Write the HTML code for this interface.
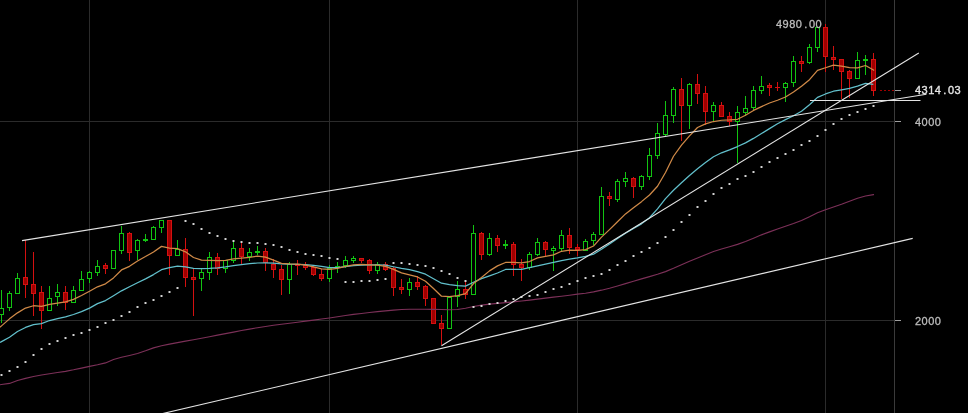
<!DOCTYPE html>
<html><head><meta charset="utf-8"><style>
html,body{margin:0;padding:0;background:#000;width:968px;height:413px;overflow:hidden}
svg{position:absolute;left:0;top:0}
.lbl{position:absolute;font-family:"Liberation Sans",sans-serif;font-size:11px;line-height:11px;color:#bcbcbc;white-space:pre;will-change:transform;letter-spacing:0.5px;-webkit-text-stroke:0.3px #bcbcbc}
.dot{display:inline-block;width:6.5px;text-align:center;letter-spacing:0}
</style></head><body>
<svg width="968" height="413" viewBox="0 0 968 413"><rect x="89" y="0" width="1" height="413" fill="#2b2b2b"/><rect x="329" y="0" width="1" height="413" fill="#2b2b2b"/><rect x="577" y="0" width="1" height="413" fill="#2b2b2b"/><rect x="825" y="0" width="1" height="413" fill="#2b2b2b"/><rect x="0" y="121" width="894" height="1" fill="#2b2b2b"/><rect x="0" y="320" width="894" height="1" fill="#2b2b2b"/><rect x="894" y="0" width="1" height="413" fill="#3a3a3a"/><rect x="895" y="121" width="6" height="1" fill="#a0a0a0"/><rect x="895" y="320" width="6" height="1" fill="#a0a0a0"/><rect x="895" y="90" width="6" height="1" fill="#a0a0a0"/><g shape-rendering="crispEdges"><rect x="1" y="290" width="1" height="33" fill="#12c412"/><rect x="-1" y="308" width="5" height="7" fill="#12c412"/><rect x="0" y="309" width="3" height="5" fill="#000"/><rect x="9" y="291" width="1" height="20" fill="#12c412"/><rect x="7" y="293" width="5" height="15" fill="#12c412"/><rect x="8" y="294" width="3" height="13" fill="#000"/><rect x="17" y="273" width="1" height="21" fill="#12c412"/><rect x="15" y="278" width="5" height="16" fill="#12c412"/><rect x="16" y="279" width="3" height="14" fill="#000"/><rect x="25" y="240" width="1" height="58" fill="#d41010"/><rect x="23" y="277" width="5" height="8" fill="#d41010"/><rect x="24" y="278" width="3" height="6" fill="#a00000"/><rect x="33" y="252" width="1" height="64" fill="#d41010"/><rect x="31" y="284" width="5" height="10" fill="#d41010"/><rect x="32" y="285" width="3" height="8" fill="#a00000"/><rect x="41" y="286" width="1" height="43" fill="#d41010"/><rect x="39" y="292" width="5" height="19" fill="#d41010"/><rect x="40" y="293" width="3" height="17" fill="#a00000"/><rect x="49" y="286" width="1" height="25" fill="#12c412"/><rect x="47" y="298" width="5" height="13" fill="#12c412"/><rect x="48" y="299" width="3" height="11" fill="#000"/><rect x="57" y="284" width="1" height="22" fill="#12c412"/><rect x="55" y="292" width="5" height="5" fill="#12c412"/><rect x="56" y="293" width="3" height="3" fill="#000"/><rect x="65" y="286" width="1" height="24" fill="#d41010"/><rect x="63" y="292" width="5" height="11" fill="#d41010"/><rect x="64" y="293" width="3" height="9" fill="#a00000"/><rect x="73" y="286" width="1" height="17" fill="#12c412"/><rect x="71" y="290" width="5" height="13" fill="#12c412"/><rect x="72" y="291" width="3" height="11" fill="#000"/><rect x="81" y="271" width="1" height="20" fill="#12c412"/><rect x="79" y="279" width="5" height="12" fill="#12c412"/><rect x="80" y="280" width="3" height="10" fill="#000"/><rect x="89" y="271" width="1" height="12" fill="#12c412"/><rect x="87" y="272" width="5" height="7" fill="#12c412"/><rect x="88" y="273" width="3" height="5" fill="#000"/><rect x="97" y="260" width="1" height="16" fill="#12c412"/><rect x="95" y="266" width="5" height="7" fill="#12c412"/><rect x="96" y="267" width="3" height="5" fill="#000"/><rect x="105" y="263" width="1" height="11" fill="#d41010"/><rect x="103" y="265" width="5" height="4" fill="#d41010"/><rect x="104" y="266" width="3" height="2" fill="#a00000"/><rect x="113" y="250" width="1" height="19" fill="#12c412"/><rect x="111" y="250" width="5" height="19" fill="#12c412"/><rect x="112" y="251" width="3" height="17" fill="#000"/><rect x="121" y="226" width="1" height="28" fill="#12c412"/><rect x="119" y="233" width="5" height="18" fill="#12c412"/><rect x="120" y="234" width="3" height="16" fill="#000"/><rect x="129" y="232" width="1" height="29" fill="#d41010"/><rect x="127" y="233" width="5" height="20" fill="#d41010"/><rect x="128" y="234" width="3" height="18" fill="#a00000"/><rect x="137" y="239" width="1" height="21" fill="#12c412"/><rect x="135" y="240" width="5" height="11" fill="#12c412"/><rect x="136" y="241" width="3" height="9" fill="#000"/><rect x="145" y="234" width="1" height="8" fill="#12c412"/><rect x="143" y="239" width="5" height="2" fill="#12c412"/><rect x="153" y="226" width="1" height="14" fill="#12c412"/><rect x="151" y="227" width="5" height="13" fill="#12c412"/><rect x="152" y="228" width="3" height="11" fill="#000"/><rect x="161" y="220" width="1" height="13" fill="#12c412"/><rect x="159" y="220" width="5" height="8" fill="#12c412"/><rect x="160" y="221" width="3" height="6" fill="#000"/><rect x="169" y="220" width="1" height="55" fill="#d41010"/><rect x="167" y="220" width="5" height="36" fill="#d41010"/><rect x="168" y="221" width="3" height="34" fill="#a00000"/><rect x="177" y="240" width="1" height="16" fill="#12c412"/><rect x="175" y="249" width="5" height="7" fill="#12c412"/><rect x="176" y="250" width="3" height="5" fill="#000"/><rect x="185" y="238" width="1" height="49" fill="#d41010"/><rect x="183" y="249" width="5" height="29" fill="#d41010"/><rect x="184" y="250" width="3" height="27" fill="#a00000"/><rect x="193" y="269" width="1" height="47" fill="#d41010"/><rect x="191" y="277" width="5" height="3" fill="#d41010"/><rect x="192" y="278" width="3" height="1" fill="#a00000"/><rect x="201" y="269" width="1" height="22" fill="#12c412"/><rect x="199" y="272" width="5" height="7" fill="#12c412"/><rect x="200" y="273" width="3" height="5" fill="#000"/><rect x="209" y="252" width="1" height="28" fill="#12c412"/><rect x="207" y="257" width="5" height="16" fill="#12c412"/><rect x="208" y="258" width="3" height="14" fill="#000"/><rect x="217" y="253" width="1" height="22" fill="#d41010"/><rect x="215" y="257" width="5" height="12" fill="#d41010"/><rect x="216" y="258" width="3" height="10" fill="#a00000"/><rect x="225" y="260" width="1" height="13" fill="#12c412"/><rect x="223" y="260" width="5" height="9" fill="#12c412"/><rect x="224" y="261" width="3" height="7" fill="#000"/><rect x="233" y="241" width="1" height="22" fill="#12c412"/><rect x="231" y="248" width="5" height="13" fill="#12c412"/><rect x="232" y="249" width="3" height="11" fill="#000"/><rect x="241" y="242" width="1" height="22" fill="#d41010"/><rect x="239" y="248" width="5" height="9" fill="#d41010"/><rect x="240" y="249" width="3" height="7" fill="#a00000"/><rect x="249" y="248" width="1" height="13" fill="#12c412"/><rect x="247" y="252" width="5" height="5" fill="#12c412"/><rect x="248" y="253" width="3" height="3" fill="#000"/><rect x="257" y="246" width="1" height="9" fill="#12c412"/><rect x="255" y="251" width="5" height="2" fill="#12c412"/><rect x="265" y="248" width="1" height="23" fill="#d41010"/><rect x="263" y="251" width="5" height="12" fill="#d41010"/><rect x="264" y="252" width="3" height="10" fill="#a00000"/><rect x="273" y="259" width="1" height="19" fill="#d41010"/><rect x="271" y="264" width="5" height="6" fill="#d41010"/><rect x="272" y="265" width="3" height="4" fill="#a00000"/><rect x="281" y="265" width="1" height="30" fill="#d41010"/><rect x="279" y="269" width="5" height="11" fill="#d41010"/><rect x="280" y="270" width="3" height="9" fill="#a00000"/><rect x="289" y="262" width="1" height="32" fill="#12c412"/><rect x="287" y="264" width="5" height="16" fill="#12c412"/><rect x="288" y="265" width="3" height="14" fill="#000"/><rect x="297" y="260" width="1" height="15" fill="#d41010"/><rect x="295" y="264" width="5" height="2" fill="#d41010"/><rect x="305" y="262" width="1" height="8" fill="#d41010"/><rect x="303" y="265" width="5" height="3" fill="#d41010"/><rect x="304" y="266" width="3" height="1" fill="#a00000"/><rect x="313" y="266" width="1" height="10" fill="#d41010"/><rect x="311" y="267" width="5" height="8" fill="#d41010"/><rect x="312" y="268" width="3" height="6" fill="#a00000"/><rect x="321" y="269" width="1" height="12" fill="#d41010"/><rect x="319" y="274" width="5" height="5" fill="#d41010"/><rect x="320" y="275" width="3" height="3" fill="#a00000"/><rect x="329" y="265" width="1" height="17" fill="#12c412"/><rect x="327" y="268" width="5" height="11" fill="#12c412"/><rect x="328" y="269" width="3" height="9" fill="#000"/><rect x="337" y="262" width="1" height="11" fill="#12c412"/><rect x="335" y="266" width="5" height="2" fill="#12c412"/><rect x="345" y="256" width="1" height="12" fill="#12c412"/><rect x="343" y="260" width="5" height="6" fill="#12c412"/><rect x="344" y="261" width="3" height="4" fill="#000"/><rect x="353" y="256" width="1" height="7" fill="#12c412"/><rect x="351" y="258" width="5" height="3" fill="#12c412"/><rect x="352" y="259" width="3" height="1" fill="#000"/><rect x="361" y="258" width="1" height="5" fill="#d41010"/><rect x="359" y="258" width="5" height="3" fill="#d41010"/><rect x="360" y="259" width="3" height="1" fill="#a00000"/><rect x="369" y="259" width="1" height="15" fill="#d41010"/><rect x="367" y="260" width="5" height="11" fill="#d41010"/><rect x="368" y="261" width="3" height="9" fill="#a00000"/><rect x="377" y="262" width="1" height="12" fill="#12c412"/><rect x="375" y="264" width="5" height="7" fill="#12c412"/><rect x="376" y="265" width="3" height="5" fill="#000"/><rect x="385" y="262" width="1" height="9" fill="#d41010"/><rect x="383" y="264" width="5" height="6" fill="#d41010"/><rect x="384" y="265" width="3" height="4" fill="#a00000"/><rect x="393" y="267" width="1" height="29" fill="#d41010"/><rect x="391" y="268" width="5" height="20" fill="#d41010"/><rect x="392" y="269" width="3" height="18" fill="#a00000"/><rect x="401" y="279" width="1" height="15" fill="#d41010"/><rect x="399" y="287" width="5" height="3" fill="#d41010"/><rect x="400" y="288" width="3" height="1" fill="#a00000"/><rect x="409" y="278" width="1" height="18" fill="#12c412"/><rect x="407" y="282" width="5" height="8" fill="#12c412"/><rect x="408" y="283" width="3" height="6" fill="#000"/><rect x="417" y="276" width="1" height="14" fill="#d41010"/><rect x="415" y="282" width="5" height="5" fill="#d41010"/><rect x="416" y="283" width="3" height="3" fill="#a00000"/><rect x="425" y="285" width="1" height="21" fill="#d41010"/><rect x="423" y="286" width="5" height="13" fill="#d41010"/><rect x="424" y="287" width="3" height="11" fill="#a00000"/><rect x="433" y="298" width="1" height="26" fill="#d41010"/><rect x="431" y="298" width="5" height="26" fill="#d41010"/><rect x="432" y="299" width="3" height="24" fill="#a00000"/><rect x="441" y="315" width="1" height="30" fill="#d41010"/><rect x="439" y="323" width="5" height="6" fill="#d41010"/><rect x="440" y="324" width="3" height="4" fill="#a00000"/><rect x="449" y="297" width="1" height="32" fill="#12c412"/><rect x="447" y="297" width="5" height="32" fill="#12c412"/><rect x="448" y="298" width="3" height="30" fill="#000"/><rect x="457" y="281" width="1" height="26" fill="#12c412"/><rect x="455" y="289" width="5" height="8" fill="#12c412"/><rect x="456" y="290" width="3" height="6" fill="#000"/><rect x="465" y="282" width="1" height="17" fill="#d41010"/><rect x="463" y="289" width="5" height="6" fill="#d41010"/><rect x="464" y="290" width="3" height="4" fill="#a00000"/><rect x="473" y="225" width="1" height="70" fill="#12c412"/><rect x="471" y="233" width="5" height="62" fill="#12c412"/><rect x="472" y="234" width="3" height="60" fill="#000"/><rect x="481" y="232" width="1" height="28" fill="#d41010"/><rect x="479" y="233" width="5" height="22" fill="#d41010"/><rect x="480" y="234" width="3" height="20" fill="#a00000"/><rect x="489" y="233" width="1" height="23" fill="#12c412"/><rect x="487" y="238" width="5" height="17" fill="#12c412"/><rect x="488" y="239" width="3" height="15" fill="#000"/><rect x="497" y="235" width="1" height="17" fill="#d41010"/><rect x="495" y="238" width="5" height="8" fill="#d41010"/><rect x="496" y="239" width="3" height="6" fill="#a00000"/><rect x="505" y="240" width="1" height="9" fill="#12c412"/><rect x="503" y="244" width="5" height="2" fill="#12c412"/><rect x="513" y="242" width="1" height="34" fill="#d41010"/><rect x="511" y="244" width="5" height="21" fill="#d41010"/><rect x="512" y="245" width="3" height="19" fill="#a00000"/><rect x="521" y="259" width="1" height="22" fill="#d41010"/><rect x="519" y="264" width="5" height="4" fill="#d41010"/><rect x="520" y="265" width="3" height="2" fill="#a00000"/><rect x="529" y="252" width="1" height="18" fill="#12c412"/><rect x="527" y="254" width="5" height="14" fill="#12c412"/><rect x="528" y="255" width="3" height="12" fill="#000"/><rect x="537" y="238" width="1" height="18" fill="#12c412"/><rect x="535" y="242" width="5" height="13" fill="#12c412"/><rect x="536" y="243" width="3" height="11" fill="#000"/><rect x="545" y="241" width="1" height="15" fill="#d41010"/><rect x="543" y="242" width="5" height="8" fill="#d41010"/><rect x="544" y="243" width="3" height="6" fill="#a00000"/><rect x="553" y="246" width="1" height="25" fill="#12c412"/><rect x="551" y="248" width="5" height="3" fill="#12c412"/><rect x="552" y="249" width="3" height="1" fill="#000"/><rect x="561" y="230" width="1" height="21" fill="#12c412"/><rect x="559" y="235" width="5" height="14" fill="#12c412"/><rect x="560" y="236" width="3" height="12" fill="#000"/><rect x="569" y="228" width="1" height="26" fill="#d41010"/><rect x="567" y="235" width="5" height="13" fill="#d41010"/><rect x="568" y="236" width="3" height="11" fill="#a00000"/><rect x="577" y="244" width="1" height="12" fill="#d41010"/><rect x="575" y="247" width="5" height="3" fill="#d41010"/><rect x="576" y="248" width="3" height="1" fill="#a00000"/><rect x="585" y="239" width="1" height="12" fill="#12c412"/><rect x="583" y="241" width="5" height="10" fill="#12c412"/><rect x="584" y="242" width="3" height="8" fill="#000"/><rect x="593" y="232" width="1" height="13" fill="#12c412"/><rect x="591" y="234" width="5" height="7" fill="#12c412"/><rect x="592" y="235" width="3" height="5" fill="#000"/><rect x="601" y="187" width="1" height="48" fill="#12c412"/><rect x="599" y="196" width="5" height="39" fill="#12c412"/><rect x="600" y="197" width="3" height="37" fill="#000"/><rect x="609" y="192" width="1" height="14" fill="#d41010"/><rect x="607" y="196" width="5" height="3" fill="#d41010"/><rect x="608" y="197" width="3" height="1" fill="#a00000"/><rect x="617" y="179" width="1" height="23" fill="#12c412"/><rect x="615" y="181" width="5" height="19" fill="#12c412"/><rect x="616" y="182" width="3" height="17" fill="#000"/><rect x="625" y="172" width="1" height="15" fill="#12c412"/><rect x="623" y="178" width="5" height="4" fill="#12c412"/><rect x="624" y="179" width="3" height="2" fill="#000"/><rect x="633" y="177" width="1" height="21" fill="#d41010"/><rect x="631" y="178" width="5" height="9" fill="#d41010"/><rect x="632" y="179" width="3" height="7" fill="#a00000"/><rect x="641" y="175" width="1" height="15" fill="#12c412"/><rect x="639" y="176" width="5" height="11" fill="#12c412"/><rect x="640" y="177" width="3" height="9" fill="#000"/><rect x="649" y="148" width="1" height="32" fill="#12c412"/><rect x="647" y="155" width="5" height="22" fill="#12c412"/><rect x="648" y="156" width="3" height="20" fill="#000"/><rect x="657" y="123" width="1" height="36" fill="#12c412"/><rect x="655" y="133" width="5" height="23" fill="#12c412"/><rect x="656" y="134" width="3" height="21" fill="#000"/><rect x="665" y="101" width="1" height="35" fill="#12c412"/><rect x="663" y="115" width="5" height="20" fill="#12c412"/><rect x="664" y="116" width="3" height="18" fill="#000"/><rect x="673" y="87" width="1" height="36" fill="#12c412"/><rect x="671" y="89" width="5" height="27" fill="#12c412"/><rect x="672" y="90" width="3" height="25" fill="#000"/><rect x="681" y="78" width="1" height="63" fill="#d41010"/><rect x="679" y="89" width="5" height="17" fill="#d41010"/><rect x="680" y="90" width="3" height="15" fill="#a00000"/><rect x="689" y="83" width="1" height="46" fill="#12c412"/><rect x="687" y="84" width="5" height="22" fill="#12c412"/><rect x="688" y="85" width="3" height="20" fill="#000"/><rect x="697" y="74" width="1" height="30" fill="#d41010"/><rect x="695" y="84" width="5" height="10" fill="#d41010"/><rect x="696" y="85" width="3" height="8" fill="#a00000"/><rect x="705" y="86" width="1" height="39" fill="#d41010"/><rect x="703" y="93" width="5" height="19" fill="#d41010"/><rect x="704" y="94" width="3" height="17" fill="#a00000"/><rect x="713" y="102" width="1" height="20" fill="#12c412"/><rect x="711" y="105" width="5" height="7" fill="#12c412"/><rect x="712" y="106" width="3" height="5" fill="#000"/><rect x="721" y="102" width="1" height="15" fill="#d41010"/><rect x="719" y="105" width="5" height="12" fill="#d41010"/><rect x="720" y="106" width="3" height="10" fill="#a00000"/><rect x="729" y="112" width="1" height="14" fill="#d41010"/><rect x="727" y="116" width="5" height="6" fill="#d41010"/><rect x="728" y="117" width="3" height="4" fill="#a00000"/><rect x="737" y="106" width="1" height="57" fill="#12c412"/><rect x="735" y="112" width="5" height="10" fill="#12c412"/><rect x="736" y="113" width="3" height="8" fill="#000"/><rect x="745" y="96" width="1" height="20" fill="#12c412"/><rect x="743" y="108" width="5" height="5" fill="#12c412"/><rect x="744" y="109" width="3" height="3" fill="#000"/><rect x="753" y="86" width="1" height="25" fill="#12c412"/><rect x="751" y="90" width="5" height="18" fill="#12c412"/><rect x="752" y="91" width="3" height="16" fill="#000"/><rect x="761" y="76" width="1" height="18" fill="#12c412"/><rect x="759" y="86" width="5" height="5" fill="#12c412"/><rect x="760" y="87" width="3" height="3" fill="#000"/><rect x="769" y="83" width="1" height="13" fill="#d41010"/><rect x="767" y="85" width="5" height="3" fill="#d41010"/><rect x="768" y="86" width="3" height="1" fill="#a00000"/><rect x="777" y="82" width="1" height="9" fill="#d41010"/><rect x="775" y="87" width="5" height="1" fill="#d41010"/><rect x="785" y="82" width="1" height="20" fill="#12c412"/><rect x="783" y="83" width="5" height="5" fill="#12c412"/><rect x="784" y="84" width="3" height="3" fill="#000"/><rect x="793" y="56" width="1" height="31" fill="#12c412"/><rect x="791" y="61" width="5" height="22" fill="#12c412"/><rect x="792" y="62" width="3" height="20" fill="#000"/><rect x="801" y="56" width="1" height="16" fill="#d41010"/><rect x="799" y="61" width="5" height="3" fill="#d41010"/><rect x="800" y="62" width="3" height="1" fill="#a00000"/><rect x="809" y="44" width="1" height="20" fill="#12c412"/><rect x="807" y="47" width="5" height="16" fill="#12c412"/><rect x="808" y="48" width="3" height="14" fill="#000"/><rect x="817" y="27" width="1" height="25" fill="#12c412"/><rect x="815" y="27" width="5" height="21" fill="#12c412"/><rect x="816" y="28" width="3" height="19" fill="#000"/><rect x="825" y="24" width="1" height="48" fill="#d41010"/><rect x="823" y="27" width="5" height="30" fill="#d41010"/><rect x="824" y="28" width="3" height="28" fill="#a00000"/><rect x="833" y="46" width="1" height="24" fill="#d41010"/><rect x="831" y="57" width="5" height="3" fill="#d41010"/><rect x="832" y="58" width="3" height="1" fill="#a00000"/><rect x="841" y="59" width="1" height="40" fill="#d41010"/><rect x="839" y="59" width="5" height="13" fill="#d41010"/><rect x="840" y="60" width="3" height="11" fill="#a00000"/><rect x="849" y="70" width="1" height="28" fill="#d41010"/><rect x="847" y="71" width="5" height="8" fill="#d41010"/><rect x="848" y="72" width="3" height="6" fill="#a00000"/><rect x="857" y="52" width="1" height="27" fill="#12c412"/><rect x="855" y="60" width="5" height="19" fill="#12c412"/><rect x="856" y="61" width="3" height="17" fill="#000"/><rect x="865" y="55" width="1" height="20" fill="#12c412"/><rect x="863" y="59" width="5" height="2" fill="#12c412"/><rect x="873" y="53" width="1" height="43" fill="#d41010"/><rect x="871" y="59" width="5" height="32" fill="#d41010"/><rect x="872" y="60" width="3" height="30" fill="#a00000"/></g><path d="M0.00,384.70 L1.50,384.52 L9.50,383.41 L17.50,380.44 L25.50,378.40 L33.50,376.56 L41.50,374.96 L49.50,373.70 L57.50,372.57 L65.50,371.34 L73.50,369.81 L81.50,368.09 L89.50,366.37 L97.50,364.81 L105.50,362.89 L113.50,359.44 L121.50,357.33 L129.50,355.45 L137.50,353.44 L145.50,350.79 L153.50,347.89 L161.50,345.75 L169.50,344.09 L177.50,342.59 L185.50,341.15 L193.50,339.73 L201.50,338.24 L209.50,336.68 L217.50,335.12 L225.50,333.61 L233.50,332.09 L241.50,330.58 L249.50,329.10 L257.50,327.70 L265.50,326.42 L273.50,325.28 L281.50,324.23 L289.50,323.22 L297.50,322.20 L305.50,321.14 L313.50,320.08 L321.50,319.02 L329.50,317.93 L337.50,316.74 L345.50,315.50 L353.50,314.40 L361.50,313.43 L369.50,312.52 L377.50,311.65 L385.50,310.86 L393.50,310.16 L401.50,309.53 L409.50,309.20 L417.50,309.18 L425.50,309.29 L433.50,309.42 L441.50,309.51 L449.50,309.75 L457.50,309.49 L465.50,308.25 L473.50,306.58 L481.50,305.15 L489.50,304.16 L497.50,303.35 L505.50,302.60 L513.50,301.84 L521.50,301.01 L529.50,300.09 L537.50,299.14 L545.50,298.16 L553.50,297.17 L561.50,296.19 L569.50,295.18 L577.50,294.16 L585.50,293.22 L593.50,291.85 L601.50,290.16 L609.50,288.19 L617.50,285.98 L625.50,283.63 L633.50,281.24 L641.50,278.86 L649.50,276.60 L657.50,274.29 L665.50,271.62 L673.50,268.36 L681.50,264.78 L689.50,261.27 L697.50,257.93 L705.50,254.65 L713.50,251.60 L721.50,249.00 L729.50,246.75 L737.50,244.38 L745.50,241.46 L753.50,238.14 L761.50,234.86 L769.50,231.89 L777.50,229.10 L785.50,226.34 L793.50,223.53 L801.50,220.47 L809.50,216.76 L817.50,212.80 L825.50,209.70 L833.50,207.07 L841.50,204.30 L849.50,201.18 L857.50,198.18 L865.50,196.02 L873.50,194.60 L874.00,194.50" fill="none" stroke="#7c3058" stroke-width="1.1" stroke-opacity="1" stroke-linejoin="round"/><path d="M0.00,342.40 L1.50,341.62 L9.50,337.30 L17.50,331.53 L25.50,327.46 L33.50,324.71 L41.50,323.56 L49.50,320.54 L57.50,318.67 L65.50,316.87 L73.50,314.51 L81.50,311.67 L89.50,308.10 L97.50,303.65 L105.50,300.56 L113.50,295.72 L121.50,290.82 L129.50,286.73 L137.50,282.80 L145.50,278.88 L153.50,274.58 L161.50,269.68 L169.50,267.64 L177.50,266.12 L185.50,266.96 L193.50,268.27 L201.50,268.63 L209.50,268.43 L217.50,267.90 L225.50,266.96 L233.50,265.59 L241.50,264.53 L249.50,263.63 L257.50,263.00 L265.50,262.79 L273.50,263.24 L281.50,263.99 L289.50,264.25 L297.50,264.47 L305.50,264.65 L313.50,265.31 L321.50,266.46 L329.50,267.62 L337.50,267.67 L345.50,266.52 L353.50,265.63 L361.50,265.04 L369.50,264.80 L377.50,264.85 L385.50,265.17 L393.50,266.76 L401.50,268.31 L409.50,269.67 L417.50,271.56 L425.50,274.19 L433.50,278.74 L441.50,283.19 L449.50,284.66 L457.50,285.58 L465.50,286.14 L473.50,282.31 L481.50,278.62 L489.50,275.80 L497.50,272.97 L505.50,269.46 L513.50,269.37 L521.50,269.30 L529.50,267.68 L537.50,265.82 L545.50,264.13 L553.50,262.34 L561.50,260.52 L569.50,259.24 L577.50,257.96 L585.50,256.42 L593.50,254.18 L601.50,249.34 L609.50,243.96 L617.50,238.56 L625.50,233.19 L633.50,228.56 L641.50,223.86 L649.50,217.75 L657.50,208.88 L665.50,198.66 L673.50,190.24 L681.50,182.68 L689.50,175.43 L697.50,168.71 L705.50,162.60 L713.50,156.70 L721.50,152.81 L729.50,149.91 L737.50,146.55 L745.50,142.87 L753.50,138.42 L761.50,133.51 L769.50,128.61 L777.50,123.78 L785.50,119.61 L793.50,115.73 L801.50,111.29 L809.50,104.68 L817.50,97.35 L825.50,93.96 L833.50,91.22 L841.50,89.80 L849.50,88.46 L857.50,86.20 L865.50,83.37 L873.30,84.30" fill="none" stroke="#62c0cc" stroke-width="1.25" stroke-opacity="1" stroke-linejoin="round"/><path d="M0.00,327.20 L1.50,325.89 L9.50,318.86 L17.50,312.84 L25.50,308.05 L33.50,305.73 L41.50,306.33 L49.50,304.34 L57.50,303.03 L65.50,301.89 L73.50,299.35 L81.50,295.52 L89.50,291.27 L97.50,286.79 L105.50,283.86 L113.50,277.90 L121.50,269.94 L129.50,266.31 L137.50,260.96 L145.50,256.57 L153.50,251.93 L161.50,246.37 L169.50,248.12 L177.50,248.55 L185.50,251.83 L193.50,257.51 L201.50,260.11 L209.50,260.39 L217.50,260.54 L225.50,260.36 L233.50,258.82 L241.50,258.04 L249.50,257.45 L257.50,256.09 L265.50,257.09 L273.50,260.14 L281.50,263.34 L289.50,263.97 L297.50,264.23 L305.50,265.15 L313.50,266.91 L321.50,268.84 L329.50,269.41 L337.50,268.42 L345.50,266.41 L353.50,264.82 L361.50,264.42 L369.50,264.99 L377.50,265.23 L385.50,266.43 L393.50,269.31 L401.50,272.87 L409.50,274.91 L417.50,276.97 L425.50,281.31 L433.50,288.44 L441.50,296.20 L449.50,296.56 L457.50,295.55 L465.50,293.70 L473.50,283.54 L481.50,277.43 L489.50,270.88 L497.50,265.88 L505.50,262.47 L513.50,262.33 L521.50,262.95 L529.50,261.55 L537.50,257.92 L545.50,256.45 L553.50,254.85 L561.50,251.27 L569.50,250.07 L577.50,250.30 L585.50,249.68 L593.50,246.05 L601.50,237.11 L609.50,229.66 L617.50,221.69 L625.50,213.91 L633.50,207.65 L641.50,201.64 L649.50,195.01 L657.50,186.27 L665.50,172.48 L673.50,156.26 L681.50,145.12 L689.50,135.84 L697.50,127.55 L705.50,123.84 L713.50,121.51 L721.50,120.25 L729.50,119.94 L737.50,119.29 L745.50,115.30 L753.50,110.43 L761.50,106.59 L769.50,103.02 L777.50,100.23 L785.50,97.00 L793.50,92.04 L801.50,86.25 L809.50,79.69 L817.50,70.30 L825.50,67.76 L833.50,65.19 L841.50,66.09 L849.50,67.66 L857.50,67.82 L865.50,65.50 L873.50,70.01 L874.10,70.50" fill="none" stroke="#d08a48" stroke-width="1.25" stroke-opacity="1" stroke-linejoin="round"/><g><ellipse cx="1.5" cy="375" rx="1.25" ry="1.05" fill="#e0e0e0"/><ellipse cx="9.5" cy="371" rx="1.25" ry="1.05" fill="#e0e0e0"/><ellipse cx="17.5" cy="367" rx="1.25" ry="1.05" fill="#e0e0e0"/><ellipse cx="25.5" cy="362" rx="1.25" ry="1.05" fill="#e0e0e0"/><ellipse cx="33.5" cy="355" rx="1.25" ry="1.05" fill="#e0e0e0"/><ellipse cx="41.5" cy="349" rx="1.25" ry="1.05" fill="#e0e0e0"/><ellipse cx="49.5" cy="344" rx="1.25" ry="1.05" fill="#e0e0e0"/><ellipse cx="57.5" cy="341" rx="1.25" ry="1.05" fill="#e0e0e0"/><ellipse cx="65.5" cy="338" rx="1.25" ry="1.05" fill="#e0e0e0"/><ellipse cx="73.5" cy="335" rx="1.25" ry="1.05" fill="#e0e0e0"/><ellipse cx="81.5" cy="333" rx="1.25" ry="1.05" fill="#e0e0e0"/><ellipse cx="89.5" cy="330" rx="1.25" ry="1.05" fill="#e0e0e0"/><ellipse cx="97.5" cy="327" rx="1.25" ry="1.05" fill="#e0e0e0"/><ellipse cx="105.5" cy="323" rx="1.25" ry="1.05" fill="#e0e0e0"/><ellipse cx="113.5" cy="320" rx="1.25" ry="1.05" fill="#e0e0e0"/><ellipse cx="121.5" cy="316" rx="1.25" ry="1.05" fill="#e0e0e0"/><ellipse cx="129.5" cy="312" rx="1.25" ry="1.05" fill="#e0e0e0"/><ellipse cx="137.5" cy="307" rx="1.25" ry="1.05" fill="#e0e0e0"/><ellipse cx="145.5" cy="303" rx="1.25" ry="1.05" fill="#e0e0e0"/><ellipse cx="153.5" cy="300" rx="1.25" ry="1.05" fill="#e0e0e0"/><ellipse cx="161.5" cy="296" rx="1.25" ry="1.05" fill="#e0e0e0"/><ellipse cx="169.5" cy="292" rx="1.25" ry="1.05" fill="#e0e0e0"/><ellipse cx="177.5" cy="288" rx="1.25" ry="1.05" fill="#e0e0e0"/><ellipse cx="185.5" cy="221" rx="1.25" ry="1.05" fill="#e0e0e0"/><ellipse cx="193.5" cy="224" rx="1.25" ry="1.05" fill="#e0e0e0"/><ellipse cx="201.5" cy="229" rx="1.25" ry="1.05" fill="#e0e0e0"/><ellipse cx="209.5" cy="233" rx="1.25" ry="1.05" fill="#e0e0e0"/><ellipse cx="217.5" cy="236" rx="1.25" ry="1.05" fill="#e0e0e0"/><ellipse cx="225.5" cy="239" rx="1.25" ry="1.05" fill="#e0e0e0"/><ellipse cx="233.5" cy="241" rx="1.25" ry="1.05" fill="#e0e0e0"/><ellipse cx="241.5" cy="242" rx="1.25" ry="1.05" fill="#e0e0e0"/><ellipse cx="249.5" cy="243" rx="1.25" ry="1.05" fill="#e0e0e0"/><ellipse cx="257.5" cy="243" rx="1.25" ry="1.05" fill="#e0e0e0"/><ellipse cx="265.5" cy="244" rx="1.25" ry="1.05" fill="#e0e0e0"/><ellipse cx="273.5" cy="245" rx="1.25" ry="1.05" fill="#e0e0e0"/><ellipse cx="281.5" cy="247" rx="1.25" ry="1.05" fill="#e0e0e0"/><ellipse cx="289.5" cy="250" rx="1.25" ry="1.05" fill="#e0e0e0"/><ellipse cx="297.5" cy="252" rx="1.25" ry="1.05" fill="#e0e0e0"/><ellipse cx="305.5" cy="254" rx="1.25" ry="1.05" fill="#e0e0e0"/><ellipse cx="313.5" cy="255" rx="1.25" ry="1.05" fill="#e0e0e0"/><ellipse cx="321.5" cy="256" rx="1.25" ry="1.05" fill="#e0e0e0"/><ellipse cx="329.5" cy="258" rx="1.25" ry="1.05" fill="#e0e0e0"/><ellipse cx="337.5" cy="259" rx="1.25" ry="1.05" fill="#e0e0e0"/><ellipse cx="345.5" cy="282" rx="1.25" ry="1.05" fill="#e0e0e0"/><ellipse cx="353.5" cy="282" rx="1.25" ry="1.05" fill="#e0e0e0"/><ellipse cx="361.5" cy="281" rx="1.25" ry="1.05" fill="#e0e0e0"/><ellipse cx="369.5" cy="281" rx="1.25" ry="1.05" fill="#e0e0e0"/><ellipse cx="377.5" cy="280" rx="1.25" ry="1.05" fill="#e0e0e0"/><ellipse cx="385.5" cy="279" rx="1.25" ry="1.05" fill="#e0e0e0"/><ellipse cx="393.5" cy="263" rx="1.25" ry="1.05" fill="#e0e0e0"/><ellipse cx="401.5" cy="263" rx="1.25" ry="1.05" fill="#e0e0e0"/><ellipse cx="409.5" cy="264" rx="1.25" ry="1.05" fill="#e0e0e0"/><ellipse cx="417.5" cy="265" rx="1.25" ry="1.05" fill="#e0e0e0"/><ellipse cx="425.5" cy="266" rx="1.25" ry="1.05" fill="#e0e0e0"/><ellipse cx="433.5" cy="268" rx="1.25" ry="1.05" fill="#e0e0e0"/><ellipse cx="441.5" cy="271" rx="1.25" ry="1.05" fill="#e0e0e0"/><ellipse cx="449.5" cy="274" rx="1.25" ry="1.05" fill="#e0e0e0"/><ellipse cx="457.5" cy="278" rx="1.25" ry="1.05" fill="#e0e0e0"/><ellipse cx="465.5" cy="281" rx="1.25" ry="1.05" fill="#e0e0e0"/><ellipse cx="473.5" cy="307" rx="1.25" ry="1.05" fill="#e0e0e0"/><ellipse cx="481.5" cy="306" rx="1.25" ry="1.05" fill="#e0e0e0"/><ellipse cx="489.5" cy="304" rx="1.25" ry="1.05" fill="#e0e0e0"/><ellipse cx="497.5" cy="303" rx="1.25" ry="1.05" fill="#e0e0e0"/><ellipse cx="505.5" cy="301" rx="1.25" ry="1.05" fill="#e0e0e0"/><ellipse cx="513.5" cy="299" rx="1.25" ry="1.05" fill="#e0e0e0"/><ellipse cx="521.5" cy="297" rx="1.25" ry="1.05" fill="#e0e0e0"/><ellipse cx="529.5" cy="296" rx="1.25" ry="1.05" fill="#e0e0e0"/><ellipse cx="537.5" cy="295" rx="1.25" ry="1.05" fill="#e0e0e0"/><ellipse cx="545.5" cy="292" rx="1.25" ry="1.05" fill="#e0e0e0"/><ellipse cx="553.5" cy="289" rx="1.25" ry="1.05" fill="#e0e0e0"/><ellipse cx="561.5" cy="287" rx="1.25" ry="1.05" fill="#e0e0e0"/><ellipse cx="569.5" cy="284" rx="1.25" ry="1.05" fill="#e0e0e0"/><ellipse cx="577.5" cy="281" rx="1.25" ry="1.05" fill="#e0e0e0"/><ellipse cx="585.5" cy="278" rx="1.25" ry="1.05" fill="#e0e0e0"/><ellipse cx="593.5" cy="276" rx="1.25" ry="1.05" fill="#e0e0e0"/><ellipse cx="601.5" cy="274" rx="1.25" ry="1.05" fill="#e0e0e0"/><ellipse cx="609.5" cy="270" rx="1.25" ry="1.05" fill="#e0e0e0"/><ellipse cx="617.5" cy="265" rx="1.25" ry="1.05" fill="#e0e0e0"/><ellipse cx="625.5" cy="261" rx="1.25" ry="1.05" fill="#e0e0e0"/><ellipse cx="633.5" cy="256" rx="1.25" ry="1.05" fill="#e0e0e0"/><ellipse cx="641.5" cy="252" rx="1.25" ry="1.05" fill="#e0e0e0"/><ellipse cx="649.5" cy="248" rx="1.25" ry="1.05" fill="#e0e0e0"/><ellipse cx="657.5" cy="243" rx="1.25" ry="1.05" fill="#e0e0e0"/><ellipse cx="665.5" cy="237" rx="1.25" ry="1.05" fill="#e0e0e0"/><ellipse cx="673.5" cy="230" rx="1.25" ry="1.05" fill="#e0e0e0"/><ellipse cx="681.5" cy="222" rx="1.25" ry="1.05" fill="#e0e0e0"/><ellipse cx="689.5" cy="215" rx="1.25" ry="1.05" fill="#e0e0e0"/><ellipse cx="697.5" cy="207" rx="1.25" ry="1.05" fill="#e0e0e0"/><ellipse cx="705.5" cy="201" rx="1.25" ry="1.05" fill="#e0e0e0"/><ellipse cx="713.5" cy="194" rx="1.25" ry="1.05" fill="#e0e0e0"/><ellipse cx="721.5" cy="188" rx="1.25" ry="1.05" fill="#e0e0e0"/><ellipse cx="729.5" cy="184" rx="1.25" ry="1.05" fill="#e0e0e0"/><ellipse cx="737.5" cy="179" rx="1.25" ry="1.05" fill="#e0e0e0"/><ellipse cx="745.5" cy="176" rx="1.25" ry="1.05" fill="#e0e0e0"/><ellipse cx="753.5" cy="172" rx="1.25" ry="1.05" fill="#e0e0e0"/><ellipse cx="761.5" cy="167" rx="1.25" ry="1.05" fill="#e0e0e0"/><ellipse cx="769.5" cy="162" rx="1.25" ry="1.05" fill="#e0e0e0"/><ellipse cx="777.5" cy="158" rx="1.25" ry="1.05" fill="#e0e0e0"/><ellipse cx="785.5" cy="154" rx="1.25" ry="1.05" fill="#e0e0e0"/><ellipse cx="793.5" cy="150" rx="1.25" ry="1.05" fill="#e0e0e0"/><ellipse cx="801.5" cy="145" rx="1.25" ry="1.05" fill="#e0e0e0"/><ellipse cx="809.5" cy="141" rx="1.25" ry="1.05" fill="#e0e0e0"/><ellipse cx="817.5" cy="136" rx="1.25" ry="1.05" fill="#e0e0e0"/><ellipse cx="825.5" cy="130" rx="1.25" ry="1.05" fill="#e0e0e0"/><ellipse cx="833.5" cy="124" rx="1.25" ry="1.05" fill="#e0e0e0"/><ellipse cx="841.5" cy="119" rx="1.25" ry="1.05" fill="#e0e0e0"/><ellipse cx="849.5" cy="115" rx="1.25" ry="1.05" fill="#e0e0e0"/><ellipse cx="857.5" cy="112" rx="1.25" ry="1.05" fill="#e0e0e0"/><ellipse cx="865.5" cy="109" rx="1.25" ry="1.05" fill="#e0e0e0"/><ellipse cx="873.5" cy="106" rx="1.25" ry="1.05" fill="#e0e0e0"/></g><line x1="22" y1="240.6" x2="926.4" y2="94.2" stroke="#e4e4e4" stroke-width="1.1"/><line x1="441.5" y1="345.7" x2="918.8" y2="53" stroke="#e4e4e4" stroke-width="1.1"/><line x1="150" y1="416.5" x2="912.7" y2="238.4" stroke="#e4e4e4" stroke-width="1.1"/><line x1="810" y1="100.5" x2="920.5" y2="100.5" stroke="#e4e4e4" stroke-width="1.1"/><line x1="880" y1="90.5" x2="894" y2="90.5" stroke="#a00000" stroke-width="1" stroke-dasharray="2,2" shape-rendering="crispEdges"/></svg>
<div class="lbl" style="left:915px;top:117px">4000</div>
<div class="lbl" style="left:915px;top:316px">2000</div>
<div class="lbl" style="left:915px;top:85px;color:#e6e6e6;-webkit-text-stroke:0.35px #e6e6e6">4314<span class="dot">.</span>03</div>
<div class="lbl" style="left:776px;top:19px">4980<span class="dot">.</span>00</div>
</body></html>
